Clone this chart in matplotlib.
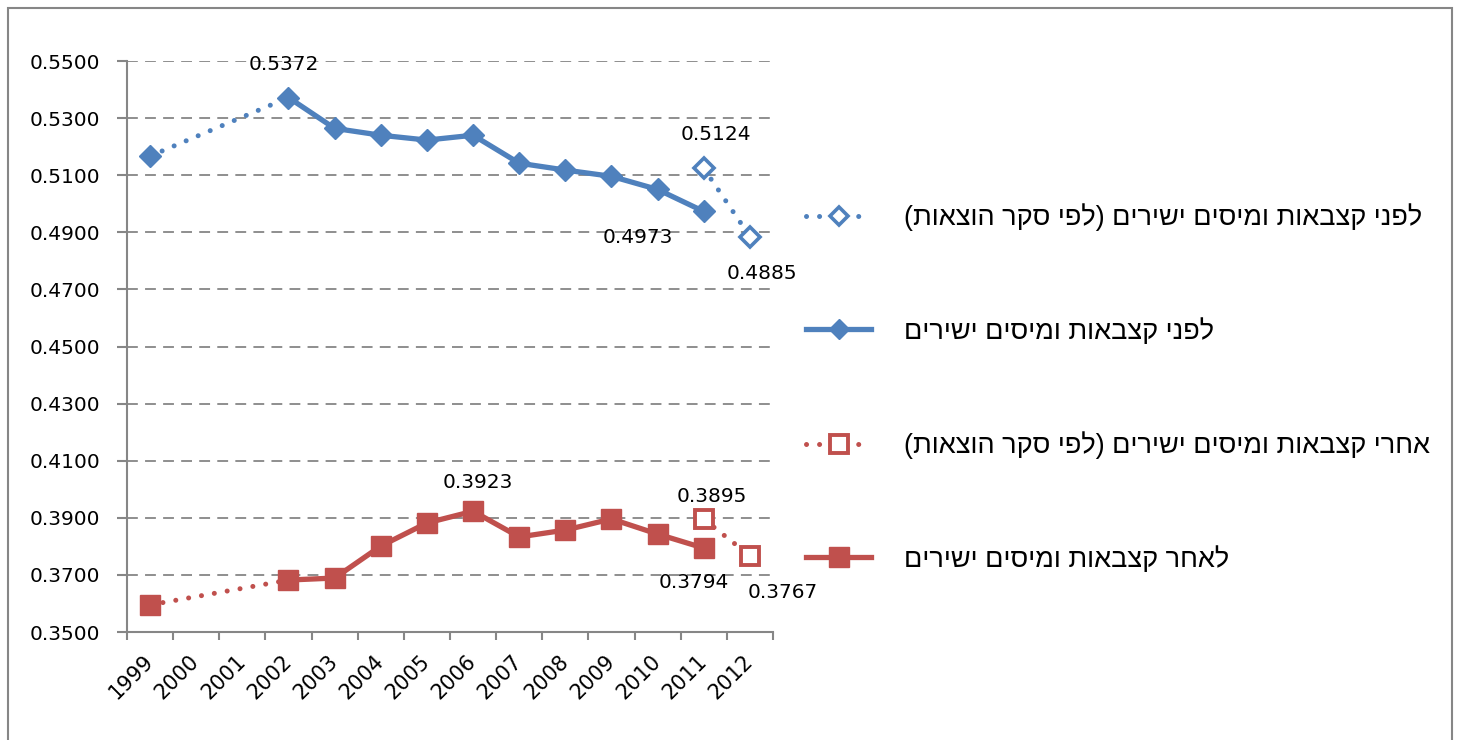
import matplotlib
matplotlib.use("Agg")
import matplotlib.pyplot as plt
import numpy as np
from matplotlib.lines import Line2D
from matplotlib.patches import Rectangle
from matplotlib.ticker import FormatStrFormatter

years = ["1999", "2000", "2001", "2002", "2003", "2004", "2005", "2006",
         "2007", "2008", "2009", "2010", "2011", "2012"]
nan = np.nan
before = [0.5167, nan, nan, 0.5372, 0.5264, 0.5240, 0.5223, 0.5240,
          0.5142, 0.5118, 0.5096, 0.5050, 0.4973, nan]
before_survey = [nan] * 12 + [0.5124, 0.4885]
after = [0.3595, nan, nan, 0.3682, 0.3689, 0.3801, 0.3882, 0.3923,
         0.3833, 0.3857, 0.3896, 0.3843, 0.3794, nan]
after_survey = [nan] * 12 + [0.3895, 0.3767]

lab_before_survey = "לפני קצבאות ומיסים ישירים (לפי סקר הוצאות)"
lab_before = "לפני קצבאות ומיסים ישירים"
lab_after_survey = "אחרי קצבאות ומיסים ישירים (לפי סקר הוצאות)"
lab_after = "לאחר קצבאות ומיסים ישירים"


def visual(s):
    r = s[::-1]
    return r.translate(str.maketrans("()", ")("))


BLUE = "#4F81BD"
RED = "#C0504D"
GRAY = "#868686"
NUMFONT = "DejaVu Sans"
NUMSIZE = 14.5
HEBFONT = "Liberation Sans"

fig = plt.figure(figsize=(14.64, 7.40), dpi=100)
ax = fig.add_axes([127 / 1464, 1 - 632 / 740, (773 - 127) / 1464, (632 - 61) / 740])

x = np.arange(len(years))
dotted = (0, (0.01, 2.6))

# dotted connector 1999 -> 2002 (gap years)
for series, col in ((before, BLUE), (after, RED)):
    xs = [0, 3]
    ys = [series[0], series[3]]
    ax.plot(xs, ys, color=col, lw=3.6, linestyle=dotted, dash_capstyle="round", zorder=3)

ax.plot(x, before, color=BLUE, lw=3.8, marker="D", ms=11, mfc=BLUE, mec=BLUE,
        solid_capstyle="round", zorder=4)
ax.plot(x, after, color=RED, lw=3.8, marker="s", ms=14.5, mfc=RED, mec=RED,
        solid_capstyle="round", zorder=4)
ax.plot(x, before_survey, color=BLUE, lw=3.6, linestyle=dotted, dash_capstyle="round",
        marker="D", ms=10, mfc="white", mec=BLUE, mew=2.6, zorder=5)
ax.plot(x, after_survey, color=RED, lw=3.6, linestyle=dotted, dash_capstyle="round",
        marker="s", ms=13.5, mfc="white", mec=RED, mew=2.8, zorder=5)

# data labels
labels = [
    (3, before[3], -5, 33),
    (12, before_survey[12], 12, 34),
    (12, before[12], -66, -26),
    (13, before_survey[13], 12, -37),
    (7, after[7], 5, 29),
    (12, after_survey[12], 8, 23),
    (12, after[12], -10, -34),
    (13, after_survey[13], 33, -37),
]
for xi, yv, dx, dy in labels:
    ax.annotate(f"{yv:.4f}", (xi, yv), xytext=(dx, dy), textcoords="offset pixels",
                ha="center", va="center", fontsize=NUMSIZE, family=NUMFONT, zorder=6)

ax.set_xlim(-0.5, len(years) - 0.5)
ax.set_ylim(0.35, 0.55)
ax.set_yticks(np.arange(0.35, 0.5501, 0.02))
ax.yaxis.set_major_formatter(FormatStrFormatter("%.4f"))
ax.set_xticks(np.arange(-0.5, len(years), 1.0))
ax.set_xticklabels([])
ax.set_xticks(x, minor=True)
ax.set_xticklabels(years, minor=True, rotation=45, ha="right", va="center",
                   rotation_mode="anchor", fontsize=15, family=NUMFONT)
ax.tick_params(axis="x", which="minor", length=0, pad=19)
ax.tick_params(axis="x", which="major", length=6, width=1.5, color=GRAY, direction="out")
ax.tick_params(axis="y", length=7, width=1.5, color=GRAY, direction="out", pad=12,
               labelsize=NUMSIZE)
for t in ax.get_yticklabels():
    t.set_family(NUMFONT)

ax.grid(axis="y", color=GRAY, lw=1.3, linestyle=(0, (6, 4)))
ax.set_axisbelow(True)
for s in ("top", "right"):
    ax.spines[s].set_visible(False)
for s in ("left", "bottom"):
    ax.spines[s].set_color(GRAY)
    ax.spines[s].set_linewidth(1.5)

handles = [
    Line2D([], [], color=BLUE, lw=3.6, linestyle=dotted, dash_capstyle="round",
           marker="D", ms=9, mfc="white", mec=BLUE, mew=2.6),
    Line2D([], [], color=BLUE, lw=3.8, marker="D", ms=10, mfc=BLUE, mec=BLUE),
    Line2D([], [], color=RED, lw=3.6, linestyle=dotted, dash_capstyle="round",
           marker="s", ms=13, mfc="white", mec=RED, mew=2.8),
    Line2D([], [], color=RED, lw=3.8, marker="s", ms=14, mfc=RED, mec=RED),
]
leg_labels = [visual(lab_before_survey), visual(lab_before),
              visual(lab_after_survey), visual(lab_after)]
fig.legend(handles, leg_labels, loc="center left", bbox_to_anchor=(806 / 1464, 1 - 388 / 740),
           frameon=False, prop={"family": HEBFONT, "size": 19.5}, handlelength=2.4,
           handletextpad=1.2, labelspacing=3.2, borderaxespad=0, borderpad=0)

fig.patches.append(Rectangle((8 / 1464, -0.05), (1452 - 8) / 1464, 1.05 - 8 / 740,
                             transform=fig.transFigure, fill=False, edgecolor=GRAY, lw=1.5))

fig.savefig("out.png", dpi=100)
